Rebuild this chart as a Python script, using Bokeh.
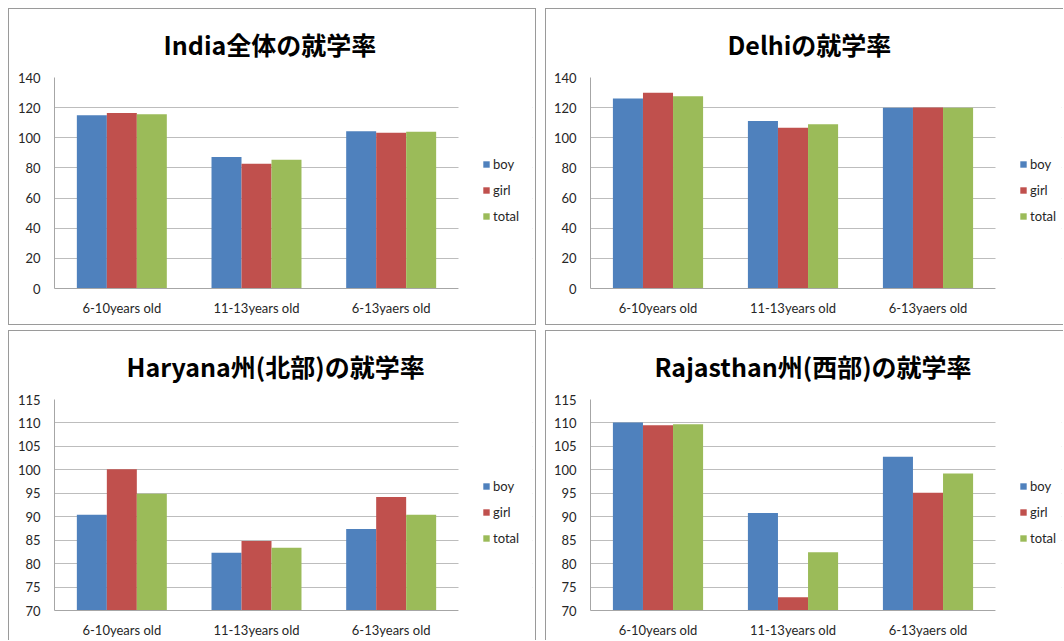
from bokeh.plotting import figure
from bokeh.models import (ColumnDataSource, Range1d, FixedTicker, Legend,
                          LegendItem, BoxAnnotation)
from bokeh.transform import dodge
from bokeh.layouts import row, column
from bokeh.embed import file_html
from bokeh.resources import INLINE

# Age groups (the Haryana sheet spells the last group differently)
categories = ["6-10years old", "11-13years old", "6-13yaers old"]
categories_haryana = ["6-10years old", "11-13years old", "6-13years old"]

# Enrolment rates by group: boy / girl / total
india_boy = [114.9, 87.3, 104.4]
india_girl = [116.4, 82.8, 103.3]
india_total = [115.6, 85.5, 104.0]

delhi_boy = [126.0, 111.1, 119.9]
delhi_girl = [129.9, 106.6, 120.1]
delhi_total = [127.5, 108.9, 120.0]

haryana_boy = [90.4, 82.3, 87.4]
haryana_girl = [100.1, 84.8, 94.2]
haryana_total = [94.9, 83.4, 90.4]

rajasthan_boy = [110.1, 90.8, 102.8]
rajasthan_girl = [109.5, 72.8, 95.1]
rajasthan_total = [109.7, 82.4, 99.2]

ticks_full = [0, 20, 40, 60, 80, 100, 120, 140]
ticks_zoom = [70, 75, 80, 85, 90, 95, 100, 105, 110, 115]

series_names = ["boy", "girl", "total"]
series_colors = ["#4F81BD", "#C0504D", "#9BBB59"]

LATIN = "Lato"
TITLE_FONT = "Noto Sans CJK JP"
BORDER = "#9a9a9a"
TEXT = "#262626"
AXIS = "#a6a6a6"


def panel(title, cats, boy, girl, total, ticks, width, height, left, right,
          top, bottom, bars_px, title_x, edges):
    n = len(cats)
    centers = [i + 0.5 for i in range(n)]
    src = ColumnDataSource(dict(x=centers, boy=boy, girl=girl, total=total))

    # the plot area reaches into the legend column; the categories take
    # the first bars_px pixels of it
    frame_px = width - left - right
    x_end = n * frame_px / bars_px
    p = figure(x_range=Range1d(0, x_end), y_range=Range1d(ticks[0], ticks[-1]),
               width=width, height=height, output_backend="svg",
               toolbar_location=None,
               min_border_left=left, min_border_right=right,
               min_border_top=top, min_border_bottom=bottom)

    bw = 0.2227
    renderers = []
    for name, color, off in zip(series_names, series_colors, (-bw, 0.0, bw)):
        r = p.vbar(x=dodge("x", off), top=name, bottom=ticks[0], width=bw,
                   source=src, fill_color=color, line_color=None)
        renderers.append(r)

    # blank out the gridlines behind the legend column
    p.add_layout(BoxAnnotation(left=n, fill_color="white", fill_alpha=1.0,
                               line_color=None))

    legend = Legend(items=[LegendItem(label=s, renderers=[r])
                           for s, r in zip(series_names, renderers)],
                    location=(bars_px + 24, 62), orientation="vertical",
                    padding=0, margin=0, spacing=6,
                    glyph_width=8, glyph_height=8, label_height=20,
                    label_standoff=3, label_text_font=LATIN,
                    label_text_font_size="13px", label_text_color=TEXT,
                    border_line_color=None, background_fill_alpha=0)
    p.add_layout(legend)

    p.title.text = title
    p.title.align = "left"
    p.title.offset = title_x
    p.title.text_font = TITLE_FONT
    p.title.text_font_size = "25px"
    p.title.text_font_style = "bold"
    p.title.text_color = "#000000"
    p.title.text_line_height = 0.8
    p.title.standoff = 31

    p.yaxis.ticker = FixedTicker(ticks=ticks)
    p.yaxis.major_label_text_font = LATIN
    p.yaxis.major_label_text_font_size = "13px"
    p.yaxis.major_label_text_color = TEXT
    p.yaxis.major_label_standoff = 14
    p.yaxis.major_tick_out = 0
    p.yaxis.major_tick_line_color = None
    p.yaxis.minor_tick_line_color = None
    p.yaxis.axis_line_color = AXIS

    p.xaxis.ticker = FixedTicker(ticks=centers)
    p.xaxis.major_label_overrides = {c: lab for c, lab in zip(centers, cats)}
    p.xaxis.bounds = (0, n)
    p.xaxis.major_label_text_font = LATIN
    p.xaxis.major_label_text_font_size = "13px"
    p.xaxis.major_label_text_color = TEXT
    p.xaxis.major_label_standoff = 11
    p.xaxis.major_tick_out = 0
    p.xaxis.major_tick_line_color = None
    p.xaxis.minor_tick_line_color = None
    p.xaxis.axis_line_color = AXIS

    p.xgrid.grid_line_color = None
    p.ygrid.grid_line_color = "#bdbdbd"
    p.outline_line_color = None
    p.background_fill_color = "white"
    p.border_fill_alpha = 0

    shadows = []
    if "l" in edges:
        shadows.append(f"inset 1px 0 0 0 {BORDER}")
    if "t" in edges:
        shadows.append(f"inset 0 1px 0 0 {BORDER}")
    if "r" in edges:
        shadows.append(f"inset -1px 0 0 0 {BORDER}")
    if "b" in edges:
        shadows.append(f"inset 0 -1px 0 0 {BORDER}")
    p.styles = {"box-shadow": ", ".join(shadows), "background-color": "white"}
    return p


p1 = panel("India全体の就学率", categories, india_boy, india_girl, india_total,
           ticks_full, 528, 317, 46, 4, 64, 37, 404, 109, "ltrb")
p2 = panel("Delhiの就学率", categories, delhi_boy, delhi_girl, delhi_total,
           ticks_full, 518, 317, 45, 2, 64, 37, 405, 137, "ltb")
p3 = panel("Haryana州(北部)の就学率", categories_haryana, haryana_boy,
           haryana_girl, haryana_total, ticks_zoom, 528, 310, 46, 4, 63, 30,
           404, 72, "ltr")
p4 = panel("Rajasthan州(西部)の就学率", categories, rajasthan_boy,
           rajasthan_girl, rajasthan_total, ticks_zoom, 518, 310, 45, 2, 63,
           30, 405, 64, "lt")

layout = column(row(p1, p2, spacing=9), row(p3, p4, spacing=9), spacing=5,
                margin=(8, 0, 0, 8))

open("out.html", "w").write(file_html(layout, INLINE))
